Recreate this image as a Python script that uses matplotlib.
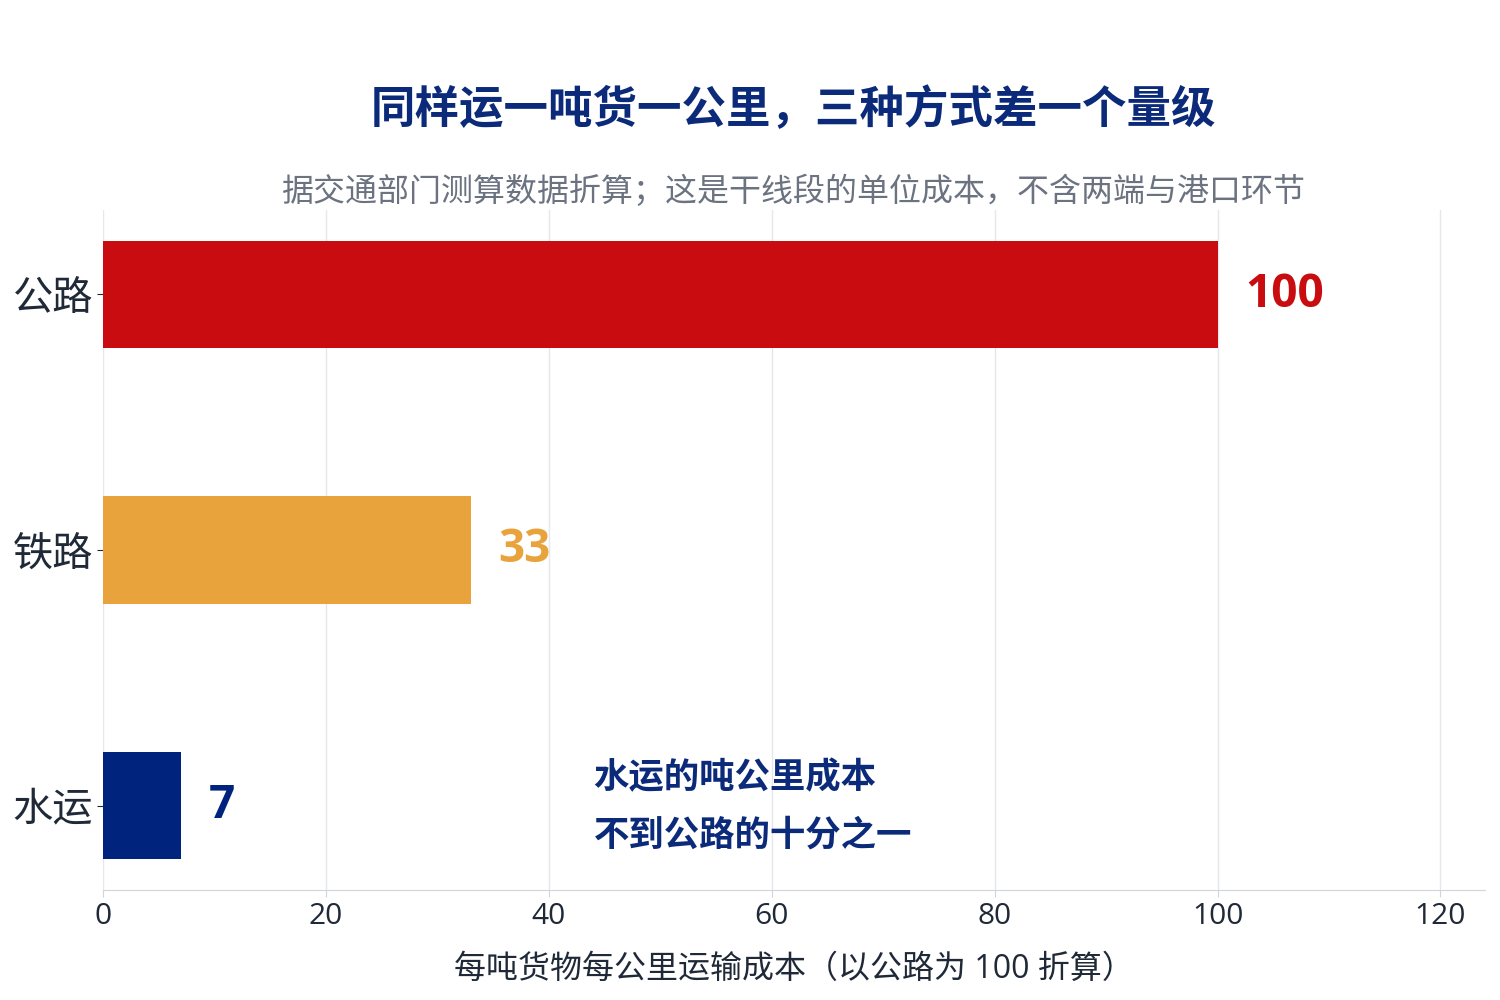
import matplotlib
matplotlib.use("Agg")
import matplotlib.pyplot as plt

plt.rcParams['font.family'] = ['Open Sans', 'Noto Sans CJK SC', 'DejaVu Sans']

# data
modes = ["水运", "铁路", "公路"]
costs = [7, 33, 100]
colors = ["#00247D", "#E8A33D", "#C80C0F"]
xticks = [0, 20, 40, 60, 80, 100, 120]

title = "同样运一吨货一公里，三种方式差一个量级"
subtitle = "据交通部门测算数据折算；这是干线段的单位成本，不含两端与港口环节"
xlabel = "每吨货物每公里运输成本（以公路为 100 折算）"
note = "水运的吨公里成本\n不到公路的十分之一"

fig = plt.figure(figsize=(15, 10), dpi=100)
ax = fig.add_axes([0.0687, 0.11, 0.9213, 0.68])

ypos = list(range(len(modes)))
ax.barh(ypos, costs, height=0.42, color=colors, zorder=3)

# value labels
for y, v, c in zip(ypos, costs, colors):
    ax.text(v + 2.5, y, str(v), va="center", ha="left", fontsize=33,
            fontweight="bold", color=c)

ax.text(44, -0.01, note, ha="left", va="center", fontsize=25.5,
        fontweight="bold", color="#0B2A7A", linespacing=1.8)

ax.set_xlim(0, 124)
ax.set_ylim(-0.33, 2.33)
ax.set_yticks(ypos)
ax.set_yticklabels(modes, fontsize=29, color="#1F2937")
ax.set_xticks(xticks)
ax.tick_params(axis="x", labelsize=21.5, colors="#1F2937", length=5, color="#D1D5DB")
ax.tick_params(axis="y", length=4, color="#1F2937", pad=3)
for lab in ax.get_xticklabels():
    lab.set_color("#1F2937")

ax.grid(axis="x", color="#E5E7EB", linewidth=1, zorder=0)
for s in ["top", "right", "left"]:
    ax.spines[s].set_visible(False)
ax.spines["bottom"].set_color("#D1D5DB")

ax.set_xlabel(xlabel, fontsize=23, color="#1F2937", labelpad=16)

fig.text(0.529, 0.888, title, ha="center", va="center", fontsize=32,
         fontweight="bold", color="#0B2A7A")
fig.text(0.529, 0.808, subtitle, ha="center", va="center", fontsize=23,
         color="#6B7280")

fig.savefig("out.png", dpi=100, facecolor="white")
